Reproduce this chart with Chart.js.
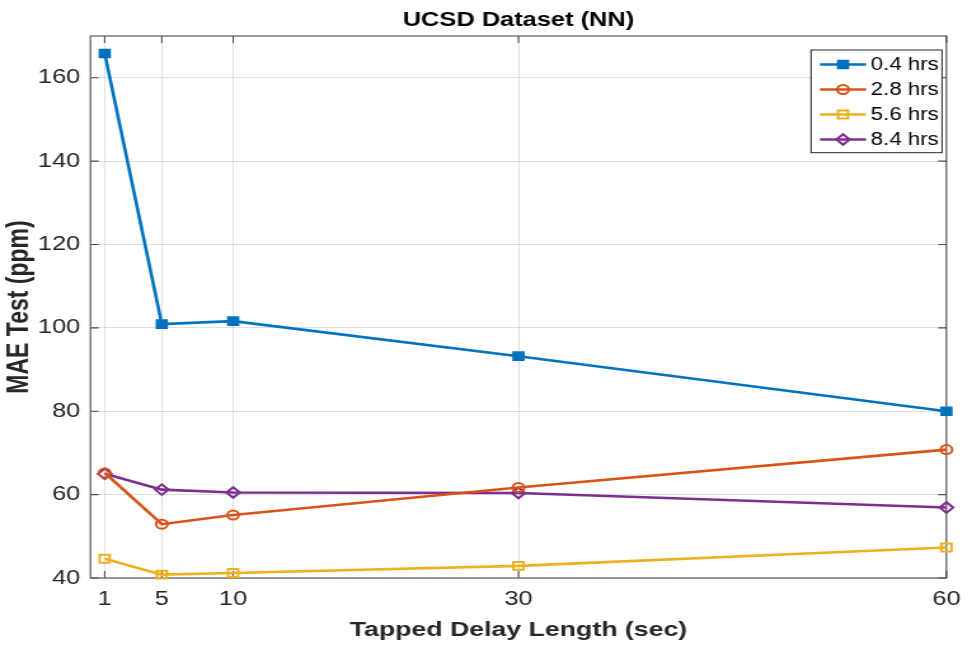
<!DOCTYPE html>
<html>
<head>
<meta charset="utf-8">
<title>UCSD Dataset (NN)</title>
<script src="https://cdn.jsdelivr.net/npm/chart.js@4.4.1/dist/chart.umd.min.js"></script>
<style>
  html, body { margin: 0; padding: 0; background: #fff; }
</style>
</head>
<body>
<canvas id="chart" width="765" height="646" style="display:block;width:972px;height:646px"></canvas>
<script>
// data
const delays = [1, 5, 10, 30, 60];
const hrs04 = [165.8, 100.9, 101.6, 93.2, 80.0];
const hrs28 = [65.2, 52.9, 55.1, 61.7, 70.8];
const hrs56 = [44.6, 40.8, 41.2, 42.9, 47.3];
const hrs84 = [65.0, 61.2, 60.5, 60.4, 56.9];
const seriesLabels = ['0.4 hrs', '2.8 hrs', '5.6 hrs', '8.4 hrs'];
const xTicks = [1, 5, 10, 30, 60];
const yTicks = [40, 60, 80, 100, 120, 140, 160];

// The figure is stretched sideways (about 1.27x), so the canvas is drawn
// narrower and widened by an inline CSS size to get the same wide lettering.
const FONT = "'Liberation Sans', Arial, Helvetica, sans-serif";
const INK = '#262626';

const toPoints = vals => delays.map((x, i) => ({ x: x, y: vals[i] }));

// white background + MATLAB-like box with inward ticks
const axesBox = {
    id: 'axesBox',
    beforeDraw(chart) {
        const ctx = chart.ctx;
        ctx.save();
        ctx.fillStyle = '#fff';
        ctx.fillRect(0, 0, chart.width, chart.height);
        ctx.restore();
    },
    beforeDatasetsDraw(chart) {
        const { ctx, chartArea: { left, right, top, bottom }, scales: { x, y } } = chart;
        ctx.save();
        ctx.strokeStyle = '#4d4d4d';
        ctx.lineWidth = 1.1;
        ctx.strokeRect(left, top, right - left, bottom - top);
        ctx.beginPath();
        xTicks.forEach(v => {
            const px = x.getPixelForValue(v);
            ctx.moveTo(px, bottom); ctx.lineTo(px, bottom - 7);
            ctx.moveTo(px, top); ctx.lineTo(px, top + 7);
        });
        yTicks.forEach(v => {
            const py = y.getPixelForValue(v);
            ctx.moveTo(left, py); ctx.lineTo(left + 6.5, py);
            ctx.moveTo(right, py); ctx.lineTo(right - 6.5, py);
        });
        ctx.stroke();
        ctx.restore();
    },
    afterDraw(chart) {
        const { ctx, chartArea: { left, right } } = chart;
        ctx.save();
        // title, centred over the axes
        ctx.fillStyle = '#000';
        ctx.font = 'bold 20px ' + FONT;
        ctx.textAlign = 'center';
        ctx.textBaseline = 'middle';
        ctx.fillText('UCSD Dataset (NN)', (left + right) / 2, 20);

        // legend box in the top right corner
        const bx = 638.3, by = 50, bw = 103.1, bh = 102.7;
        ctx.fillStyle = '#fff';
        ctx.fillRect(bx, by, bw, bh);
        ctx.strokeStyle = '#262626';
        ctx.lineWidth = 1;
        ctx.strokeRect(bx, by, bw, bh);

        ctx.font = '17.5px ' + FONT;
        ctx.textAlign = 'left';
        chart.data.datasets.forEach((ds, i) => {
            const rowY = 64.5 + i * 25;
            ctx.strokeStyle = ds.borderColor;
            ctx.lineWidth = ds.borderWidth;
            ctx.beginPath();
            ctx.moveTo(645.4, rowY);
            ctx.lineTo(681.6, rowY);
            ctx.stroke();
            ctx.fillStyle = ds.pointBackgroundColor;
            ctx.lineWidth = ds.pointBorderWidth;
            Chart.helpers.drawPoint(ctx, {
                pointStyle: ds.pointStyle,
                radius: ds.pointRadius,
                borderWidth: ds.pointBorderWidth,
                rotation: 0
            }, 663.5, rowY);
            ctx.fillStyle = '#000';
            ctx.fillText(ds.label, 685.3, rowY + 1);
        });
        ctx.restore();
    }
};

const ctx = document.getElementById('chart').getContext('2d');
new Chart(ctx, {
    type: 'line',
    data: {
        datasets: [
            {
                label: seriesLabels[0], data: toPoints(hrs04),
                borderColor: '#0072BD', pointBackgroundColor: '#0072BD', pointBorderColor: '#0072BD',
                pointStyle: 'rect', pointRadius: 5.8, pointBorderWidth: 1.5
            },
            {
                label: seriesLabels[1], data: toPoints(hrs28),
                borderColor: '#D95319', pointBackgroundColor: 'rgba(0,0,0,0)', pointBorderColor: '#D95319',
                pointStyle: 'circle', pointRadius: 4.5, pointBorderWidth: 2
            },
            {
                label: seriesLabels[2], data: toPoints(hrs56),
                borderColor: '#EDB120', pointBackgroundColor: 'rgba(0,0,0,0)', pointBorderColor: '#EDB120',
                pointStyle: 'rect', pointRadius: 5.6, pointBorderWidth: 2
            },
            {
                label: seriesLabels[3], data: toPoints(hrs84),
                borderColor: '#7E2F8E', pointBackgroundColor: 'rgba(0,0,0,0)', pointBorderColor: '#7E2F8E',
                pointStyle: 'rectRot', pointRadius: 5.3, pointBorderWidth: 2
            }
        ].map(ds => Object.assign(ds, { borderWidth: 2.6, tension: 0, fill: false, clip: false }))
    },
    options: {
        responsive: false,
        animation: false,
        layout: { padding: { top: 36, right: 12.6, left: 0, bottom: 0 } },
        plugins: {
            legend: { display: false },
            title: { display: false },
            tooltip: { enabled: false }
        },
        scales: {
            x: {
                type: 'linear',
                min: 0,
                max: 60,
                afterBuildTicks: axis => { axis.ticks = xTicks.map(v => ({ value: v })); },
                afterFit: axis => { axis.height = 68; },
                grid: { color: 'rgba(38,38,38,0.15)', lineWidth: 1, drawTicks: false },
                border: { display: false },
                ticks: { font: { family: FONT, size: 20 }, color: INK, padding: 9, maxRotation: 0, autoSkip: false },
                title: {
                    display: true,
                    text: 'Tapped Delay Length (sec)',
                    font: { family: FONT, size: 21, weight: 'bold' },
                    color: INK,
                    padding: { top: 0, bottom: 3 }
                }
            },
            y: {
                min: 40,
                max: 170,
                afterBuildTicks: axis => { axis.ticks = yTicks.map(v => ({ value: v })); },
                afterFit: axis => { axis.width = 71.2; },
                grid: { color: 'rgba(38,38,38,0.15)', lineWidth: 1, drawTicks: false },
                border: { display: false },
                ticks: { font: { family: FONT, size: 20 }, color: INK, padding: 8 },
                title: {
                    display: true,
                    text: 'MAE Test (ppm)',
                    font: { family: FONT, size: 23, weight: 'bold' },
                    color: INK,
                    padding: { top: 2, bottom: 0 }
                }
            }
        }
    },
    plugins: [axesBox]
});
</script>
</body>
</html>
